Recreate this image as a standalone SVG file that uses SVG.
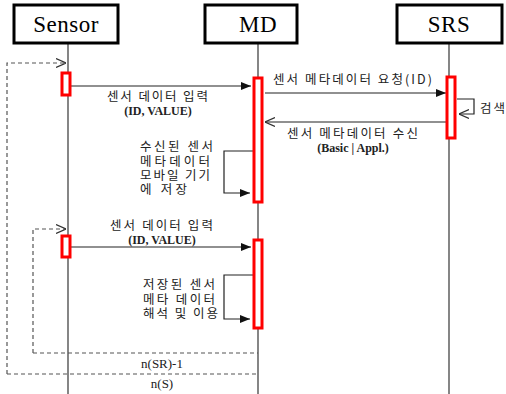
<svg xmlns="http://www.w3.org/2000/svg" width="506" height="394" viewBox="0 0 506 394">
<style>
.box{fill:#fff;stroke:#000;stroke-width:3}
.title{font-family:"Liberation Serif",serif;font-size:23px;text-anchor:middle;fill:#000;letter-spacing:0.5px}
.life{stroke:#444;stroke-width:1.3;fill:none}
.act{fill:#fff;stroke:#f00;stroke-width:3}
.msg{stroke:#222;stroke-width:1.2;fill:none}
.dash{stroke:#555;stroke-width:1.2;fill:none;stroke-dasharray:4 3}
.kr{font-family:"Noto Sans CJK KR","Noto Sans",sans-serif;font-size:12.5px;fill:#222}
.sr{font-family:"Liberation Serif",serif;font-size:12px;fill:#222;font-weight:bold}
.nl{font-family:"Liberation Serif",serif;font-size:13px;fill:#222}
.c{text-anchor:middle}
</style>
<defs>
<marker id="fa" viewBox="0 0 10 10" refX="10" refY="5" markerWidth="10" markerHeight="10" markerUnits="userSpaceOnUse" orient="auto"><path d="M0,1 L10,5 L0,9 Z" fill="#111"/></marker>
<marker id="oa" viewBox="0 0 10 10" refX="10" refY="5" markerWidth="10" markerHeight="10" markerUnits="userSpaceOnUse" orient="auto"><path d="M0,0.5 L10,5 L0,9.5" fill="none" stroke="#333" stroke-width="1.2"/></marker>
</defs>
<g id="lifelines">
<line class="life" x1="68" y1="43" x2="68" y2="394"/>
<line class="life" x1="258" y1="43" x2="258" y2="394"/>
<line class="life" x1="449" y1="43" x2="449" y2="394"/>
</g>
<g id="sensor"><rect class="box" x="14" y="5" width="104" height="38"/><text class="title" x="66" y="32">Sensor</text></g>
<g id="md"><rect class="box" x="205" y="5" width="92" height="38"/><text class="title" x="258" y="32">MD</text></g>
<g id="srs"><rect class="box" x="397" y="5" width="105" height="38"/><text class="title" x="449" y="32">SRS</text></g>
<g id="connectors">
<path class="dash" d="M7,374 V63 H66" marker-end="url(#oa)"/>
<path class="dash" d="M7,374 H258"/>
<path class="dash" d="M33,353 V229 H66" marker-end="url(#oa)"/>
<path class="dash" d="M33,353 H258"/>
<line class="msg" x1="71" y1="86" x2="251" y2="86" marker-end="url(#fa)"/>
<line class="msg" x1="265" y1="93" x2="446" y2="93" marker-end="url(#fa)"/>
<path class="msg" d="M457,99 H474 V114 H459" marker-end="url(#oa)"/>
<line class="msg" x1="446" y1="122" x2="265" y2="122" marker-end="url(#oa)"/>
<path class="msg" d="M253,151 H224 V193 H250" marker-end="url(#fa)"/>
<line class="msg" x1="71" y1="247" x2="251" y2="247" marker-end="url(#fa)"/>
<path class="msg" d="M253,275 H224 V319 H250" marker-end="url(#fa)"/>
</g>
<g id="activations">
<rect class="act" x="62" y="73" width="8" height="22"/>
<rect class="act" x="254" y="78" width="8" height="124"/>
<rect class="act" x="447" y="77" width="8" height="61"/>
<rect class="act" x="62" y="236" width="8" height="21"/>
<rect class="act" x="254" y="240" width="8" height="88"/>
</g>
<g id="labels">
<text class="kr" x="107" y="101" textLength="101" lengthAdjust="spacing">센서 데이터 입력</text>
<text class="sr c" x="158" y="115">(ID, VALUE)</text>
<text class="kr" x="273" y="84" textLength="159" lengthAdjust="spacing">센서 메타데이터 요청(ID)</text>
<text class="kr" x="480" y="113" textLength="25" lengthAdjust="spacing">검색</text>
<text class="kr" x="287" y="138" textLength="131" lengthAdjust="spacing">센서 메타데이터 수신</text>
<text class="sr c" x="353" y="152">(Basic | Appl.)</text>
<text class="kr"><tspan x="140" y="151" textLength="73" lengthAdjust="spacing">수신된 센서</tspan><tspan x="140" y="166" textLength="70" lengthAdjust="spacing">메타데이터</tspan><tspan x="140" y="180" textLength="70" lengthAdjust="spacing">모바일 기기</tspan><tspan x="140" y="194" textLength="47" lengthAdjust="spacing">에 저장</tspan></text>
<text class="kr" x="110" y="230" textLength="103" lengthAdjust="spacing">센서 데이터 입력</text>
<text class="sr c" x="162" y="244">(ID, VALUE)</text>
<text class="kr"><tspan x="143" y="289" textLength="72" lengthAdjust="spacing">저장된 센서</tspan><tspan x="143" y="304" textLength="72" lengthAdjust="spacing">메타 데이터</tspan><tspan x="143" y="318" textLength="75" lengthAdjust="spacing">해석 및 이용</tspan></text>
<text class="nl c" x="162" y="368">n(SR)-1</text>
<text class="nl c" x="162" y="388">n(S)</text>
</g>
</svg>
